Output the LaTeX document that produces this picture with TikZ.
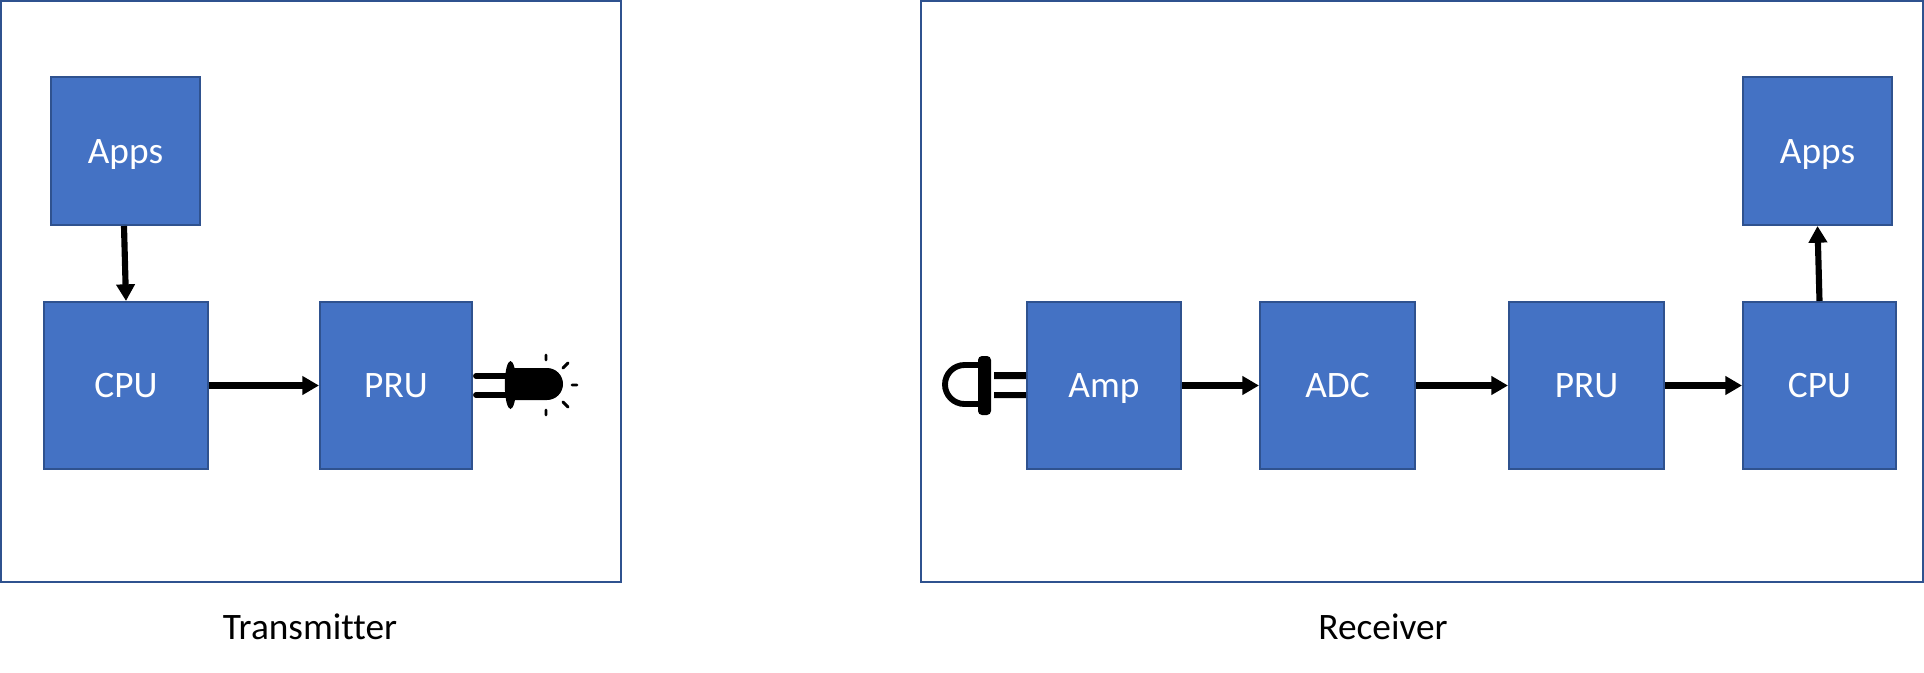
\documentclass[tikz,border=0pt]{standalone}
\usepackage{fontspec}
\setmainfont{Carlito}[Ligatures=NoCommon]
\usetikzlibrary{arrows.meta}
\definecolor{boxfill}{HTML}{4472C4}
\definecolor{boxline}{HTML}{2F528F}
\tikzset{
  x=0.75pt,y=-0.75pt,
  frame/.style={draw=boxline,line width=1.5pt,fill=white,outer sep=0pt},
  block/.style={draw=boxline,line width=1.5pt,fill=boxfill,text=white,font=\fontsize{28}{32}\selectfont,inner sep=0pt,outer sep=0.75pt,text height=18pt,text depth=0pt},
  caption/.style={font=\fontsize{28}{32}\selectfont,text=black,inner sep=0pt,anchor=base},
  conn/.style={black,line width=4.6pt,-{Triangle[length=12.5pt,width=13.5pt]}},
  symb/.style={black,line width=4.4pt}
}
\newcommand{\blockat}[6]{\node[block,minimum width=#4*0.75pt-#2*0.75pt-1.5pt,minimum height=#5*0.75pt-#3*0.75pt-1.5pt] (#1) at ({(#2+#4)/2},{(#3+#5)/2}) {#6};}
\begin{document}
\begin{tikzpicture}
\useasboundingbox (0,0) rectangle (1924,672);
\fill[white] (0,0) rectangle (1924,672);
\node[frame,minimum width=620*0.75pt,minimum height=581*0.75pt] (tx) at (311,291.5) {};
\node[frame,minimum width=1002*0.75pt,minimum height=581*0.75pt] (rx) at (1422,291.5) {};
\blockat{appsL}{50}{76}{201}{226}{Apps}
\blockat{cpuL}{43}{301}{209}{470}{CPU}
\blockat{pruL}{319}{301}{473}{470}{PRU}
\blockat{amp}{1026}{301}{1182}{470}{Amp}
\blockat{adc}{1259}{301}{1416}{470}{ADC}
\blockat{pruR}{1508}{301}{1665}{470}{PRU}
\blockat{cpuR}{1742}{301}{1897}{470}{CPU}
\blockat{appsR}{1742}{76}{1893}{226}{Apps}
\node[caption] (capL) at (310,639) {Transmitter};
\node[caption] (capR) at (1383,639) {Receiver};
\draw[conn] (appsL.south) ++(-1.5,0) coordinate (a1) (a1) -- (cpuL.north);
\draw[conn] (cpuL.east) -- (pruL.west);
\draw[conn] (amp.east) -- (adc.west);
\draw[conn] (adc.east) -- (pruR.west);
\draw[conn] (pruR.east) -- (cpuR.west);
\draw[conn] (cpuR.north) -- (appsR.south);
% LED
\draw[symb,line cap=round] (476,376) -- (508,376) (476,395) -- (508,395);
\fill[black] (510.5,385) ellipse (5.7 and 24);
\fill[black] (510,368) -- (547,368) arc[start angle=-90,end angle=90,radius=16] -- (510,400) -- cycle;
\draw[black,line width=2.2pt,line cap=round] (546,355) -- (546,360) (563,368) -- (568,363) (572,385) -- (577,385) (563,402) -- (568,407) (546,410) -- (546,415);
% plug
\draw[symb] (978,365) -- (964.5,365) arc[start angle=-90,end angle=-270,radius=19.5] -- (978,404);
\fill[black,rounded corners=3pt] (978,356) rectangle (991,415);
\fill[black] (994,372) rectangle (1026,379) (994,392) rectangle (1026,398);
\end{tikzpicture}
\end{document}
